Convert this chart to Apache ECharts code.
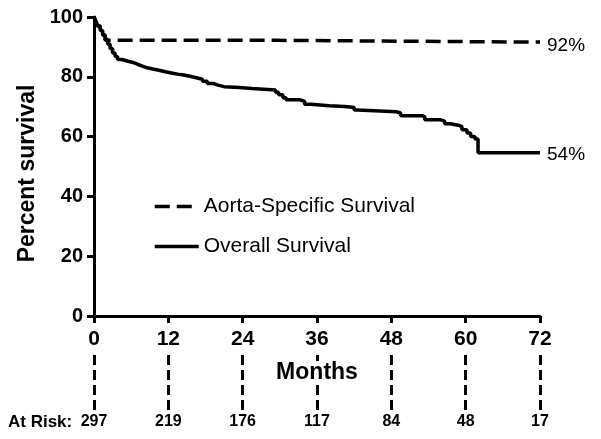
<!DOCTYPE html>
<html>
<head>
<meta charset="utf-8">
<script src="https://cdn.jsdelivr.net/npm/echarts@6/dist/echarts.min.js"></script>
<style>html,body{margin:0;padding:0;background:#fff}#c{width:601px;height:439px}</style>
</head>
<body>
<div id="c"></div>
<script>
// ---- data ----
var seriesNames = ['Aorta-Specific Survival', 'Overall Survival'];
var aortaSpecific = [[0,100],[0.3,98.5],[0.6,97],[1,95.5],[1.4,94],[1.8,92.2],[29.5,91.6],[72,91.6]];
var overall = [[0,100],[0.3,98.5],[0.6,97],[1,95.5],[1.4,94],[1.8,92.5],[2.2,91],[2.6,89.5],[3,88],[3.4,86.8],[3.8,85.8],[4.5,85.2],[5.5,84.8],[6.3,84.2],[7,83.6],[7.8,83],[8.6,82.6],[9.5,82.2],[10.5,81.7],[11.5,81.3],[12.5,80.9],[13.5,80.6],[14.5,80.2],[15.5,79.7],[16.5,79.2],[17.5,78.5],[18.3,77.8],[19.2,77.2],[20,76.7],[21,76.4],[23.5,76.1],[25.5,75.6],[29.3,74.8],[29.8,74.0],[30.5,73],[31,72.3],[33.3,71.8],[34,70.8],[35,70.3],[38,70.1],[40.5,69.7],[42,68.9],[42.5,68.3],[48.8,67.9],[49.5,67],[53,66.6],[53.4,65.6],[56,65.2],[56.6,64.3],[57.5,63.8],[58.8,63.3],[59.4,62.3],[60.2,61.2],[60.8,60],[61.5,59.2],[62,54.6],[72,54.6]];
var endLabels = ['92%', '54%'];
var riskMonths = [0, 12, 24, 36, 48, 60, 72];
var atRisk = [297, 219, 176, 117, 84, 48, 17];

var FONT = "'Liberation Sans', Arial, sans-serif";
var chart = echarts.init(document.getElementById('c'), null, {renderer: 'canvas'});

var option = {
  backgroundColor: '#fff',
  animation: false,
  textStyle: {fontFamily: FONT, color: '#000'},
  grid: [
    {left: 94, right: 61, top: 17, bottom: 123},
    {left: 94, right: 61, top: 353, height: 57}
  ],
  legend: {
    orient: 'vertical', left: 148, top: 191, itemGap: 19,
    itemWidth: 44, itemHeight: 14,
    data: seriesNames,
    itemStyle: {opacity: 0},
    lineStyle: {width: 3.5},
    textStyle: {fontSize: 21, color: '#000', fontFamily: FONT}
  },
  xAxis: [
    {
      gridIndex: 0, type: 'value', min: 0, max: 72, interval: 12, z: 10,
      name: 'Months', nameLocation: 'middle', nameGap: 45,
      nameTextStyle: {fontSize: 23, fontWeight: 'bold', color: '#000', backgroundColor: '#fff', padding: [0, 3], fontFamily: FONT},
      axisLine: {lineStyle: {color: '#000', width: 3}},
      axisTick: {length: 7, lineStyle: {color: '#000', width: 3}},
      axisLabel: {fontSize: 21, fontWeight: 'bold', color: '#000', margin: 13, fontFamily: FONT},
      splitLine: {show: false}
    },
    {
      gridIndex: 1, type: 'value', min: 0, max: 72, interval: 12,
      axisLine: {show: false}, axisTick: {show: false}, splitLine: {show: false},
      axisLabel: {
        fontSize: 16, fontWeight: 'bold', color: '#000', margin: 4, fontFamily: FONT,
        formatter: function (v) { var i = riskMonths.indexOf(v); return i >= 0 ? String(atRisk[i]) : ''; }
      }
    }
  ],
  yAxis: [
    {
      gridIndex: 0, type: 'value', min: 0, max: 100, interval: 20,
      name: 'Percent survival', nameLocation: 'middle', nameGap: 49,
      nameTextStyle: {fontSize: 23, fontWeight: 'bold', color: '#000', fontFamily: FONT, padding: [0, 14, 0, 0]},
      axisLine: {lineStyle: {color: '#000', width: 3}},
      axisTick: {length: 7, lineStyle: {color: '#000', width: 3}},
      axisLabel: {fontSize: 20, fontWeight: 'bold', color: '#000', margin: 11, fontFamily: FONT},
      splitLine: {show: false}
    },
    {
      gridIndex: 1, type: 'value', min: 0, max: 1, show: false
    }
  ],
  graphic: [
    {type: 'text', left: 8, top: 414, style: {text: 'At Risk:', font: 'bold 17px ' + FONT, fill: '#000'}}
  ],
  series: [
    {
      name: seriesNames[0], type: 'line', step: 'end', xAxisIndex: 0, yAxisIndex: 0,
      data: aortaSpecific, symbol: 'none', showSymbol: false,
      lineStyle: {color: '#000', width: 3.5, type: [15, 7]},
      itemStyle: {color: '#000'},
      endLabel: {show: true, formatter: function () { return endLabels[0]; }, fontSize: 19, color: '#000', distance: 7, fontFamily: FONT, offset: [0, 4]}
    },
    {
      name: seriesNames[1], type: 'line', step: 'end', xAxisIndex: 0, yAxisIndex: 0,
      data: overall, symbol: 'none', showSymbol: false,
      lineStyle: {color: '#000', width: 3.5, type: 'solid'},
      itemStyle: {color: '#000'},
      endLabel: {show: true, formatter: function () { return endLabels[1]; }, fontSize: 19, color: '#000', distance: 7, fontFamily: FONT, offset: [0, 2]}
    },
    {
      name: 'risk', type: 'line', xAxisIndex: 1, yAxisIndex: 1, data: [], silent: true,
      markLine: {
        symbol: 'none', silent: true, label: {show: false},
        lineStyle: {color: '#000', width: 3, type: [10, 5]},
        data: riskMonths.map(function (m) { return {xAxis: m}; })
      }
    }
  ]
};
chart.setOption(option);
</script>
</body>
</html>
